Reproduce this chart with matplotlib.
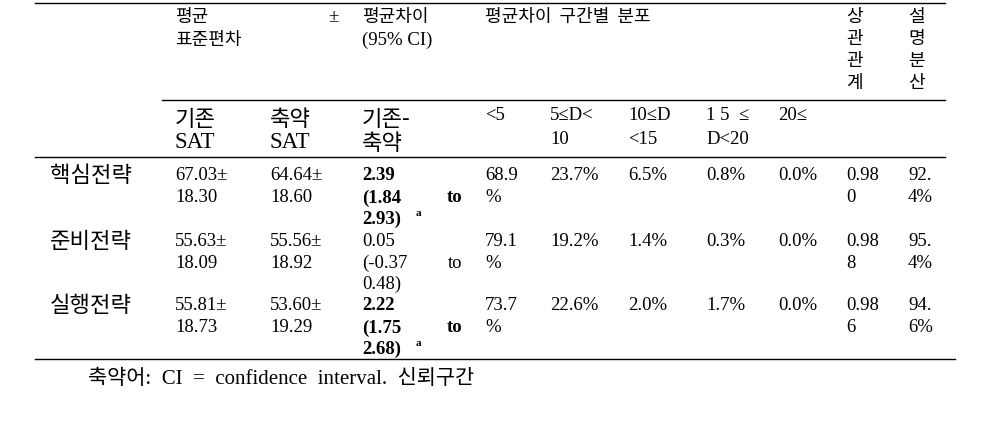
import matplotlib
matplotlib.use("Agg")
import matplotlib.pyplot as plt

rows = ["핵심전략", "준비전략", "실행전략"]
base_mean = ["67.03", "55.63", "55.81"]
base_sd = ["18.30", "18.09", "18.73"]
short_mean = ["64.64", "55.56", "53.60"]
short_sd = ["18.60", "18.92", "19.29"]
diff = ["2.39", "0.05", "2.22"]
ci_lo = ["1.84", "-0.37", "1.75"]
ci_hi = ["2.93", "0.48", "2.68"]
sig = [True, False, True]
dist = [["68.9", "23.7%", "6.5%", "0.8%", "0.0%"],
        ["79.1", "19.2%", "1.4%", "0.3%", "0.0%"],
        ["73.7", "22.6%", "2.0%", "1.7%", "0.0%"]]
corr = [("0.98", "0"), ("0.98", "8"), ("0.98", "6")]
expl = [("92.", "4%"), ("95.", "4%"), ("94.", "6%")]
bins = [("<5", ""), ("5≤D<", "10"), ("10≤D", "<15"), ("1 5  ≤", "D<20"), ("20≤", "")]

fig = plt.figure(figsize=(9.98, 4.41), dpi=100)
ax = fig.add_axes([0, 0, 1, 1])
ax.set_xlim(0, 998); ax.set_ylim(441, 0); ax.axis("off")

KR = ["Noto Sans CJK KR", "DejaVu Sans"]
SER = ["Liberation Serif", "Noto Sans CJK KR", "DejaVu Sans"]
fs = 13.5
kfs = 13

def t(x, y, s, fam=SER, size=fs, bold=False, ha="left"):
    ax.text(x, y, s, family=fam, fontsize=size, va="center", ha=ha,
            fontweight="bold" if bold else "normal", color="black")

ax.plot([35, 945], [3, 3], color="black", lw=1)
ax.plot([162, 945], [100, 100], color="black", lw=1)
ax.plot([35, 945], [157, 157], color="black", lw=1)
ax.plot([35, 955], [359, 359], color="black", lw=1)

t(175, 17, "평균", KR, kfs); t(328, 17, "±", SER)
t(175, 40, "표준편차", KR, kfs)
t(362, 17, "평균차이", KR, kfs); t(362, 40, "(95% CI)", SER)
t(485, 17, "평균차이  구간별  분포", KR, kfs)
for i, ch in enumerate("상관관계"):
    t(846, 17 + i * 22, ch, KR, kfs)
for i, ch in enumerate("설명분산"):
    t(908, 17 + i * 22, ch, KR, kfs)

t(175, 120, "기존", KR, kfs + 3); t(175, 143, "SAT", SER, fs + 3)
t(270, 120, "축약", KR, kfs + 3); t(270, 143, "SAT", SER, fs + 3)
t(362, 120, "기존-", KR, kfs + 3); t(362, 143, "축약", KR, kfs + 3)
bx = [485, 550, 628, 706, 778]
for x, (a, b) in zip(bx, bins):
    t(x, 116, a); t(x, 140, b)

ry = [176, 241, 306]
for i, y in enumerate(ry):
    t(50, y, rows[i], KR, kfs + 3)
    t(175, y, base_mean[i] + "±"); t(175, y + 22, base_sd[i])
    t(270, y, short_mean[i] + "±"); t(270, y + 22, short_sd[i])
    b = sig[i]
    t(362, y, diff[i], bold=b)
    t(362, y + 22, "(" + ci_lo[i], bold=b); t(462, y + 22, "to", bold=b, ha="right")
    t(362, y + 43, ci_hi[i] + ")", bold=b)
    if b:
        ax.text(416, y + 38, "a", family=SER, fontsize=8, fontweight="bold", va="center")
    for j, x in enumerate(bx):
        t(x, y, dist[i][j])
    t(485, y + 22, "%")
    t(846, y, corr[i][0]); t(846, y + 22, corr[i][1])
    t(908, y, expl[i][0]); t(908, y + 22, expl[i][1])

t(88, 379, "축약어:  CI  =  confidence  interval.  신뢰구간", SER, fs + 1.5)

fig.savefig("out.png", dpi=100, facecolor="white")
